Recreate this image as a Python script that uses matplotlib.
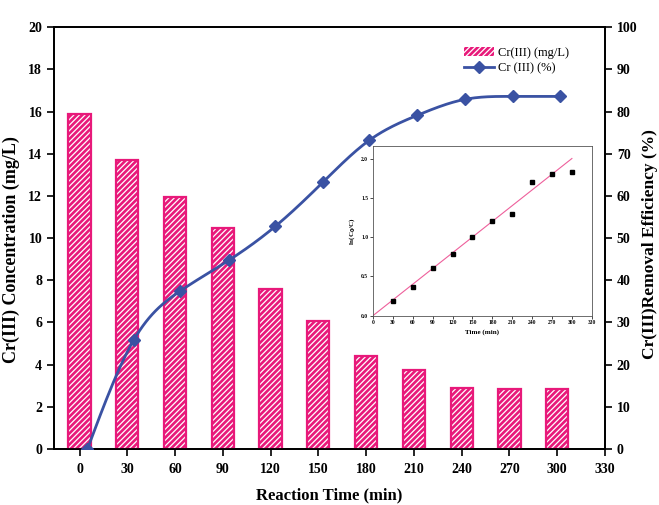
import numpy as np
import matplotlib
matplotlib.use("Agg")
import matplotlib.pyplot as plt
from matplotlib.patches import Patch
from matplotlib.lines import Line2D

plt.rcParams['font.family'] = ['Liberation Serif', 'DejaVu Serif']
plt.rcParams['font.weight'] = 'bold'
plt.rcParams['hatch.linewidth'] = 0.9

# ---- 数据 ----
times = [0, 30, 60, 90, 120, 150, 180, 210, 240, 270, 300]
conc = [15.9, 13.7, 11.95, 10.5, 7.6, 6.05, 4.4, 3.75, 2.9, 2.85, 2.85]
# 去除率曲线在原图中略微右移
eff_time = [5, 34, 63, 94, 123, 153, 182, 212, 242, 272, 302]
eff = [0, 25.8, 37.4, 44.8, 52.8, 63.3, 73.2, 79.1, 82.9, 83.6, 83.6]

# 插图: 一级动力学
kin_time = [30, 60, 90, 120, 150, 180, 210, 240, 270, 300]
kin_ln = [0.19, 0.36, 0.60, 0.79, 1.0, 1.20, 1.30, 1.70, 1.80, 1.83]
fit_slope = 2.0 / 300

xticks = list(range(0, 331, 30))

PINK = '#e8197a'
BLUE = '#3a52a3'


def natural_spline(x, y, n=300):
    # 自然三次样条, 只用来画平滑曲线
    x = np.asarray(x, float)
    y = np.asarray(y, float)
    k = len(x)
    h = np.diff(x)
    A = np.zeros((k, k))
    b = np.zeros(k)
    A[0, 0] = A[-1, -1] = 1
    for i in range(1, k - 1):
        A[i, i - 1] = h[i - 1]
        A[i, i] = 2 * (h[i - 1] + h[i])
        A[i, i + 1] = h[i]
        b[i] = 6 * ((y[i + 1] - y[i]) / h[i] - (y[i] - y[i - 1]) / h[i - 1])
    M = np.linalg.solve(A, b)
    xs = np.linspace(x[0], x[-1], n)
    idx = np.clip(np.searchsorted(x, xs) - 1, 0, k - 2)
    x0, x1 = x[idx], x[idx + 1]
    hh = x1 - x0
    t0, t1 = x1 - xs, xs - x0
    ys = (M[idx] * t0 ** 3 + M[idx + 1] * t1 ** 3) / (6 * hh) \
        + (y[idx] / hh - M[idx] * hh / 6) * t0 \
        + (y[idx + 1] / hh - M[idx + 1] * hh / 6) * t1
    return xs, ys


fig = plt.figure(figsize=(6.59, 5.05), dpi=100)
ax = fig.add_axes([0.082, 0.111, 0.836, 0.835])

# 柱状图: 粉色 + 白色斜线
ax.bar(times, conc, width=14, color=PINK, edgecolor='white', hatch='//////', linewidth=0, zorder=2)
ax.bar(times, conc, width=14, fill=False, edgecolor=PINK, linewidth=1.6, zorder=3)
ax.set_xlim(-16, 330)
ax.set_ylim(0, 20)
ax.set_xticks(xticks)
ax.set_yticks(range(0, 21, 2))
ax.set_xlabel("Reaction Time (min)", fontsize=12, fontweight='bold', labelpad=8)
ax.set_ylabel("Cr(III) Concentration (mg/L)", fontsize=13, fontweight='bold')
ax.yaxis.set_label_coords(-0.062, 0.474)
ax.tick_params(axis='both', direction='out', length=5, width=1.2, labelsize=10, top=False)
ax.tick_params(axis='x', pad=5)
for sp in ax.spines.values():
    sp.set_linewidth(1.3)

# 右轴: 去除率
ax2 = ax.twinx()
sx, sy = natural_spline(eff_time, eff)
ax2.plot(sx, sy, color=BLUE, lw=2, zorder=4)
ax2.plot(eff_time, eff, 'D', color=BLUE, ms=6, zorder=5)
ax2.set_ylim(0, 100)
ax2.set_yticks(range(0, 101, 10))
ax2.set_ylabel("Cr(III)Removal Efficiency (%)", fontsize=12.5, fontweight='bold')
ax2.yaxis.set_label_coords(1.067, 0.486)
ax2.tick_params(axis='y', direction='out', length=5, width=1.2, labelsize=10)
for sp in ax2.spines.values():
    sp.set_linewidth(1.3)

for lab in ax.get_xticklabels() + ax.get_yticklabels() + ax2.get_yticklabels():
    lab.set_fontweight('bold')

h1 = Patch(facecolor=PINK, edgecolor='white', hatch='//////', linewidth=0)
h2 = Line2D([], [], color=BLUE, lw=2, marker='D', ms=6)
ax2.legend([h1, h2], ["Cr(III) (mg/L)", "Cr (III) (%)"], loc='upper right',
           bbox_to_anchor=(0.955, 0.98), frameon=False,
           handlelength=2.4, handletextpad=0.3, labelspacing=0.3,
           prop={'weight': 'normal', 'size': 9})

# 插图
axi = fig.add_axes([0.566, 0.375, 0.332, 0.336])
axi.plot(kin_time, kin_ln, 's', color='black', ms=3.2, zorder=3)
fx = np.array([0, 300])
axi.plot(fx, fit_slope * fx, color='#ee5f9b', lw=0.8, zorder=2)
axi.set_xlim(0, 330)
axi.set_ylim(0, 2.16)
axi.set_xticks(xticks)
axi.set_yticks([0, 0.5, 1.0, 1.5, 2.0])
axi.set_yticklabels(['0.0', '0.5', '1.0', '1.5', '2.0'])
axi.tick_params(axis='both', labelsize=4, length=2, width=0.5, pad=1.5)
for lab in axi.get_xticklabels() + axi.get_yticklabels():
    lab.set_fontweight('bold')
axi.set_xlabel("Time (min)", fontsize=5, fontweight='bold', labelpad=3)
axi.set_ylabel("ln(C$_0$/C)", fontsize=5, fontweight='bold', labelpad=3)
for sp in axi.spines.values():
    sp.set_linewidth(0.6)
    sp.set_color('#555555')

fig.savefig("out.png", dpi=100)
